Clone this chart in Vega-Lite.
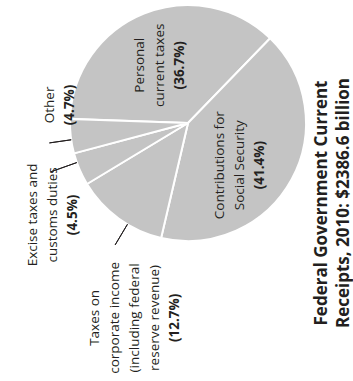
{
  "$schema": "https://vega.github.io/schema/vega-lite/v6.json",
  "autosize": "none",
  "width": 330,
  "height": 246,
  "padding": {"left": 23, "top": 0, "right": 0, "bottom": 135},
  "background": "white",
  "config": {
    "view": {"stroke": null},
    "font": "Open Sans",
    "text": {"font": "Open Sans", "color": "#231f20", "angle": 270, "align": "center", "baseline": "middle", "lineBreak": "\n", "lineHeight": 20, "fontSize": 13.5}
  },
  "title": {
    "text": ["Federal Government Current", "Receipts, 2010: $2386.6 billion"],
    "orient": "right",
    "angle": -90,
    "baseline": "middle",
    "anchor": "middle",
    "offset": -70,
    "dx": -80,
    "font": "Open Sans",
    "fontSize": 17,
    "fontWeight": "bold",
    "lineHeight": 22,
    "color": "#231f20"
  },
  "data": {
    "values": [
      {"category": "Personal current taxes", "label": "Personal\ncurrent taxes", "share": 36.7, "order": 1},
      {"category": "Contributions for Social Security", "label": "Contributions for\nSocial Security", "share": 41.4, "order": 2},
      {"category": "Taxes on corporate income", "label": "Taxes on\ncorporate income\n(including federal\nreserve revenue)", "share": 12.7, "order": 3},
      {"category": "Excise taxes and customs duties", "label": "Excise taxes and\ncustoms duties", "share": 4.5, "order": 4},
      {"category": "Other", "label": "Other", "share": 4.7, "order": 5}
    ]
  },
  "transform": [
    {"window": [{"op": "sum", "field": "share", "as": "cum"}], "sort": [{"field": "order"}]},
    {"calculate": "datum.cum - datum.share", "as": "start"},
    {"calculate": "datum.cum - datum.share / 2", "as": "mid"},
    {"calculate": "'(' + format(datum.share, '.1f') + '%)'", "as": "pct"}
  ],
  "encoding": {
    "theta": {"field": "mid", "type": "quantitative", "scale": {"domain": [0, 100], "range": [-1.5359, 4.7473]}}
  },
  "layer": [
    {
      "mark": {"type": "arc", "radius": 118, "fill": "#c4c4c4", "stroke": "white", "strokeWidth": 2},
      "encoding": {
        "theta": {"field": "start", "type": "quantitative", "scale": {"domain": [0, 100], "range": [-1.5359, 4.7473]}},
        "theta2": {"field": "cum"}
      }
    },
    {
      "transform": [{"filter": "datum.order === 5"}],
      "mark": {"type": "arc", "radius": 140, "radius2": 118, "thetaOffset": -0.03, "theta2Offset": -0.03, "fill": null, "stroke": "#231f20", "strokeWidth": 1},
      "encoding": {"theta2": {"field": "mid"}}
    },
    {
      "transform": [{"filter": "datum.order === 4"}],
      "mark": {"type": "arc", "radius": 146, "radius2": 118, "thetaOffset": 0.06, "theta2Offset": 0.06, "fill": null, "stroke": "#231f20", "strokeWidth": 1},
      "encoding": {"theta2": {"field": "mid"}}
    },
    {
      "transform": [{"filter": "datum.order === 3"}],
      "mark": {"type": "arc", "radius": 142, "radius2": 118, "thetaOffset": -0.09, "theta2Offset": -0.09, "fill": null, "stroke": "#231f20", "strokeWidth": 1},
      "encoding": {"theta2": {"field": "mid"}}
    },
    {
      "transform": [{"filter": "datum.order === 1"}],
      "layer": [
        {"mark": {"type": "text", "radius": 75, "thetaOffset": -0.309}, "encoding": {"text": {"field": "label"}}},
        {"mark": {"type": "text", "radius": 75, "thetaOffset": -0.309, "dy": 40, "fontWeight": "bold"}, "encoding": {"text": {"field": "pct"}}}
      ]
    },
    {
      "transform": [{"filter": "datum.order === 2"}],
      "layer": [
        {"mark": {"type": "text", "radius": 53, "thetaOffset": 0.421}, "encoding": {"text": {"field": "label"}}},
        {"mark": {"type": "text", "radius": 53, "thetaOffset": 0.421, "dy": 40, "fontWeight": "bold"}, "encoding": {"text": {"field": "pct"}}}
      ]
    },
    {
      "transform": [{"filter": "datum.order === 3"}],
      "layer": [
        {"mark": {"type": "text", "radius": 216, "thetaOffset": -0.183}, "encoding": {"text": {"field": "label"}}},
        {"mark": {"type": "text", "radius": 216, "thetaOffset": -0.183, "dy": 80, "fontWeight": "bold"}, "encoding": {"text": {"field": "pct"}}}
      ]
    },
    {
      "transform": [{"filter": "datum.order === 4"}],
      "layer": [
        {"mark": {"type": "text", "radius": 180, "thetaOffset": -0.134}, "encoding": {"text": {"field": "label"}}},
        {"mark": {"type": "text", "radius": 180, "thetaOffset": -0.134, "dy": 40, "fontWeight": "bold"}, "encoding": {"text": {"field": "pct"}}}
      ]
    },
    {
      "transform": [{"filter": "datum.order === 5"}],
      "layer": [
        {"mark": {"type": "text", "radius": 139, "thetaOffset": 0.243}, "encoding": {"text": {"field": "label"}}},
        {"mark": {"type": "text", "radius": 139, "thetaOffset": 0.243, "dy": 20, "fontWeight": "bold"}, "encoding": {"text": {"field": "pct"}}}
      ]
    }
  ]
}
